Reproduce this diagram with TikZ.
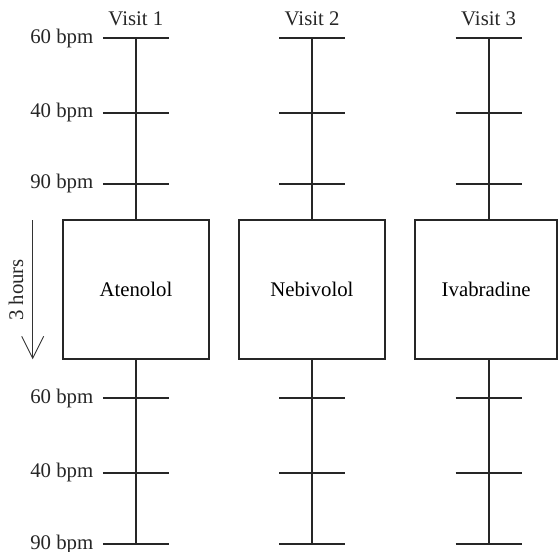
\documentclass[tikz,border=0pt]{standalone}
\usepackage{fontspec}
\setmainfont{Liberation Serif}
\usetikzlibrary{arrows.meta}
\begin{document}
\begin{tikzpicture}[x=1pt,y=-1pt,
  axis/.style={line width=2.2pt, draw=black!85},
  drugbox/.style={draw=black!85, line width=2.2pt, minimum height=139.3pt, inner sep=0pt, font=\fontsize{20.8}{24}\selectfont},
  lbl/.style={font=\fontsize{20.8}{24}\selectfont, text=black!85, inner sep=0pt},
  timearrow/.style={line width=0.9pt, draw=black!80, -{Straight Barb[length=22pt,width=22pt,line width=0.9pt]}}]
\useasboundingbox (0,0) rectangle (558,552);
% column positions
\foreach \n/\x in {1/135.9, 2/312.1, 3/488.6}{
  \coordinate (a\n) at (\x,38.3);
  \coordinate (b\n) at (\x,112.7);
  \coordinate (c\n) at (\x,183.6);
  \coordinate (d\n) at (\x,398.3);
  \coordinate (e\n) at (\x,472.7);
  \coordinate (f\n) at (\x,544.0);
}
% boxes
\node[drugbox, minimum width=146.3pt] (box1) at (135.9,289.6) {Atenolol};
\node[drugbox, minimum width=145.7pt] (box2) at (311.9,289.6) {Nebivolol};
\node[drugbox, minimum width=142.5pt] (box3) at (486.2,289.6) {Ivabradine};
% vertical connectors
\foreach \n in {1,2,3}{
  \draw[axis] (a\n) -- (box\n.north -| a\n);
  \draw[axis] (box\n.south -| a\n) -- (f\n);
  \foreach \t in {a,b,c,d,e,f}{
    \draw[axis] ([xshift=-33pt]\t\n) -- ([xshift=33pt]\t\n);
  }
}
% visit labels
\node[lbl] (v1) at (135.9,18.5) {Visit 1};
\node[lbl] (v2) at (312.1,18.5) {Visit 2};
\node[lbl] (v3) at (488.6,18.5) {Visit 3};
% bpm labels
\node[lbl, anchor=east] (la) at (93.5,38.3) {60 bpm};
\node[lbl, anchor=east] (lb) at (93.5,112.7) {40 bpm};
\node[lbl, anchor=east] (lc) at (93.5,183.6) {90 bpm};
\node[lbl, anchor=east] (ld) at (93.5,398.3) {60 bpm};
\node[lbl, anchor=east] (le) at (93.5,472.7) {40 bpm};
\node[lbl, anchor=east] (lf) at (93.5,544.0) {90 bpm};
% time arrow
\coordinate (tA) at (32.7,220);
\coordinate (tB) at (32.7,359.3);
\draw[timearrow] (tA) -- (tB);
\node[lbl, rotate=90] (hours) at (16,290) {3 hours};
\end{tikzpicture}
\end{document}
